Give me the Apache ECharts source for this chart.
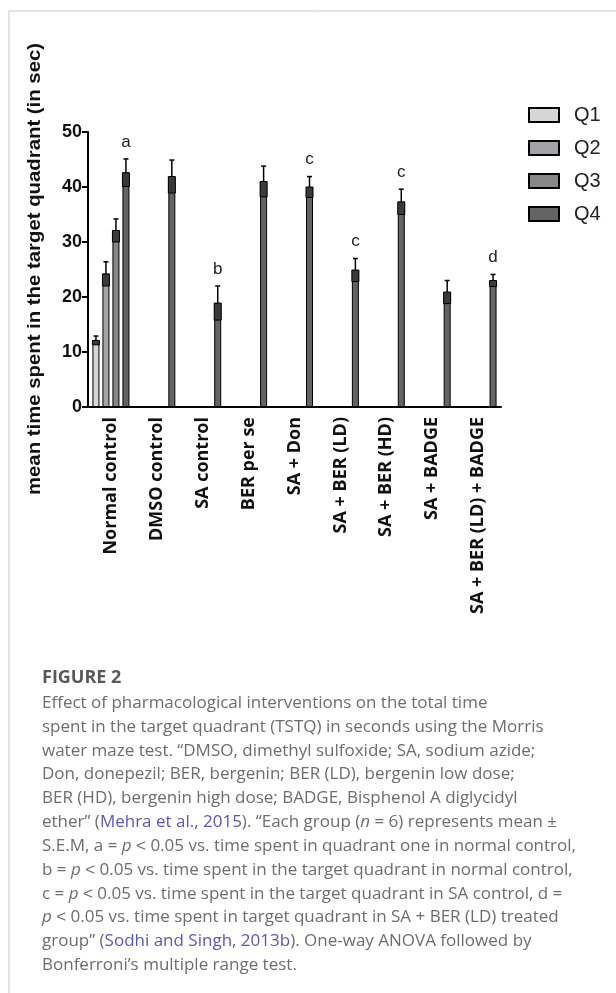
<!DOCTYPE html>
<html>
<head>
<meta charset="utf-8">
<script src="https://cdn.jsdelivr.net/npm/echarts@6/dist/echarts.min.js"></script>
<style>
  html, body { margin: 0; padding: 0; background: #fff; }
  #chart { width: 616px; height: 993px; }
</style>
</head>
<body>
<div id="chart"></div>
<script>
// Treatment groups on the x axis
const categories = ['Normal control', 'DMSO control', 'SA control', 'BER per se', 'SA + Don',
  'SA + BER (LD)', 'SA + BER (HD)', 'SA + BADGE', 'SA + BER (LD) + BADGE'];

// Mean time (s) spent in each quadrant; only normal control has Q1–Q3 recorded
const q1 = [12.1, null, null, null, null, null, null, null, null];
const q2 = [24.2, null, null, null, null, null, null, null, null];
const q3 = [32.1, null, null, null, null, null, null, null, null];
const q4 = [42.6, 41.9, 18.9, 41.0, 40.0, 24.9, 37.3, 20.9, 23.0];

// Standard error of the mean for each bar
const q1Sem = [0.8, null, null, null, null, null, null, null, null];
const q2Sem = [2.2, null, null, null, null, null, null, null, null];
const q3Sem = [2.1, null, null, null, null, null, null, null, null];
const q4Sem = [2.5, 3.0, 3.1, 2.8, 1.9, 2.1, 2.3, 2.1, 1.1];

// Significance letters above the target-quadrant (Q4) bars
const q4Letters = ['a', '', 'b', '', 'c', 'c', 'c', '', 'd'];

const seriesNames = ['Q1', 'Q2', 'Q3', 'Q4'];
const yTicks = [0, 10, 20, 30, 40, 50];
const yTitle = 'mean time spent in the target quadrant (in sec)';

const means = [q1, q2, q3, q4];
const sems = [q1Sem, q2Sem, q3Sem, q4Sem];
const letters = [null, null, null, q4Letters];
const fills = ['#d6d6d6', '#a6a3a8', '#878787', '#646464'];

const BAR_W = 7;
const BAR_GAP = 3;

const chart = echarts.init(document.getElementById('chart'), null, { renderer: 'canvas' });

const barSeries = means.map((vals, k) => ({
  name: seriesNames[k],
  type: 'bar',
  data: vals.map(v => (v == null ? '-' : v)),
  barWidth: BAR_W,
  barGap: (BAR_GAP / BAR_W * 100) + '%',
  itemStyle: { color: fills[k], borderColor: '#000', borderWidth: 1 },
  emphasis: { disabled: true },
  z: 2
}));

// Error bars: dark lower half inside the bar, whisker and cap above it
const errSeries = means.map((vals, k) => ({
  name: seriesNames[k] + ' SEM',
  type: 'custom',
  z: 3,
  data: vals.map((v, i) => [i, v == null ? NaN : v, sems[k][i] == null ? NaN : sems[k][i], i]).filter(d => !isNaN(d[1])),
  encode: { x: 0, y: 1 },
  renderItem: function (params, api) {
    const idx = api.value(0);
    const v = api.value(1);
    const s = api.value(2);
    const off = (k - 1.5) * (BAR_W + BAR_GAP);
    const x = api.coord([idx, v])[0] + off;
    const yVal = api.coord([idx, v])[1];
    const yTop = api.coord([idx, v + s])[1];
    const yLow = api.coord([idx, v - s])[1];
    const children = [
      { type: 'rect', shape: { x: x - BAR_W / 2, y: yVal, width: BAR_W, height: yLow - yVal },
        style: { fill: '#3a3a3a', stroke: '#000', lineWidth: 1 } },
      { type: 'line', shape: { x1: x, y1: yTop, x2: x, y2: yVal },
        style: { stroke: '#000', lineWidth: 1.5 } },
      { type: 'line', shape: { x1: x - 2.5, y1: yTop, x2: x + 2.5, y2: yTop },
        style: { stroke: '#000', lineWidth: 1.5 } }
    ];
    const lab = letters[k] ? letters[k][api.value(3)] : '';
    if (lab) {
      children.push({ type: 'text', x: x, y: yTop - 17,
        style: { text: lab, fill: '#222', font: '17px "Liberation Sans", Arial, sans-serif',
          align: 'center', verticalAlign: 'middle' } });
    }
    return { type: 'group', children: children };
  }
}));

// Caption lines, with rich-text spans for italics and citation links
const capFont = '17px "Open Sans", sans-serif';
const capLines = [
  'Effect of pharmacological interventions on the total time',
  'spent in the target quadrant (TSTQ) in seconds using the Morris',
  'water maze test. “DMSO, dimethyl sulfoxide; SA, sodium azide;',
  'Don, donepezil; BER, bergenin; BER (LD), bergenin low dose;',
  'BER (HD), bergenin high dose; BADGE, Bisphenol A diglycidyl',
  'ether” ({l|Mehra et al., 2015}). “Each group ({i|n} = 6) represents mean ±',
  'S.E.M, a = {i|p} ˂ 0.05 vs. time spent in quadrant one in normal control,',
  'b = {i|p} ˂ 0.05 vs. time spent in the target quadrant in normal control,',
  'c = {i|p} ˂ 0.05 vs. time spent in the target quadrant in SA control, d =',
  '{i|p} ˂ 0.05 vs. time spent in target quadrant in SA + BER (LD) treated',
  'group” ({l|Sodhi and Singh, 2013b}). One-way ANOVA followed by',
  'Bonferroni’s multiple range test.'
];

const graphics = [
  { type: 'line', shape: { x1: 9, y1: 11, x2: 616, y2: 11 }, style: { stroke: '#c9c9c9', lineWidth: 1 } },
  { type: 'line', shape: { x1: 9, y1: 11, x2: 9, y2: 993 }, style: { stroke: '#c9c9c9', lineWidth: 1 } },
  // y-axis title, stretched along its length
  { type: 'text', x: 35, y: 269, rotation: Math.PI / 2, scaleX: 1.13,
    style: { text: yTitle, fill: '#111', font: 'bold 18px "Liberation Sans", Arial, sans-serif',
      align: 'center', verticalAlign: 'middle' } },
  { type: 'text', x: 42, y: 678, style: { text: 'FIGURE 2', fill: '#585858',
      font: 'bold 18px "Open Sans", sans-serif', verticalAlign: 'middle' } }
];
capLines.forEach((t, i) => {
  graphics.push({
    type: 'text', x: 42, y: 703 + i * 23.85,
    style: {
      text: t, fill: '#6d6d6d', font: capFont, verticalAlign: 'middle',
      rich: {
        i: { font: 'italic ' + capFont, fill: '#6d6d6d' },
        l: { font: capFont, fill: '#5b57b5' }
      }
    }
  });
});

chart.setOption({
  animation: false,
  backgroundColor: '#fff',
  grid: { left: 88, top: 132, width: 413, height: 275, containLabel: false },
  legend: {
    data: seriesNames,
    orient: 'vertical',
    left: 528, top: 105,
    padding: 0,
    itemWidth: 30, itemHeight: 14, itemGap: 13,
    icon: 'rect',
    selectedMode: false,
    textStyle: { fontFamily: '"Liberation Sans", Arial, sans-serif', fontSize: 20, color: '#222', padding: [0, 0, 0, 10] }
  },
  xAxis: {
    type: 'category',
    data: categories,
    axisLine: { lineStyle: { color: '#000', width: 2 } },
    axisTick: { alignWithLabel: true, length: 7, lineStyle: { color: '#000', width: 2 } },
    axisLabel: { rotate: 90, margin: 10, color: '#111', fontFamily: '"Open Sans", sans-serif',
      fontWeight: 'bold', fontSize: 18, interval: 0 },
    splitLine: { show: false }
  },
  yAxis: {
    type: 'value',
    min: yTicks[0], max: yTicks[yTicks.length - 1], interval: 10,
    axisLine: { show: true, lineStyle: { color: '#000', width: 2 } },
    axisTick: { show: true, length: 6, lineStyle: { color: '#000', width: 2 } },
    axisLabel: { margin: 6, color: '#111', fontFamily: '"Liberation Sans", Arial, sans-serif',
      fontWeight: 'bold', fontSize: 18 },
    splitLine: { show: false }
  },
  graphic: graphics,
  series: barSeries.concat(errSeries)
});
</script>
</body>
</html>
